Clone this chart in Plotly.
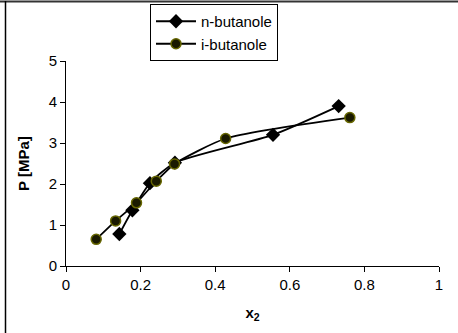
import plotly.graph_objects as go

n_x = [0.143, 0.178, 0.225, 0.292, 0.555, 0.731]
n_p = [0.78, 1.36, 2.02, 2.52, 3.20, 3.90]
i_x = [0.081, 0.133, 0.189, 0.242, 0.291, 0.428, 0.761]
i_p = [0.65, 1.10, 1.54, 2.07, 2.49, 3.11, 3.62]
x_ticks = [0, 0.2, 0.4, 0.6, 0.8, 1]
x_labels = ["0", "0.2", "0.4", "0.6", "0.8", "1"]
y_ticks = [0, 1, 2, 3, 4, 5]

FONT = "Liberation Sans, Arial, sans-serif"

fig = go.Figure()
fig.add_trace(go.Scatter(
    x=n_x, y=n_p, name="n-butanole", mode="lines+markers",
    line=dict(color="black", width=1.8, shape="spline", smoothing=0.6),
    marker=dict(symbol="diamond", size=11, color="black"),
))
fig.add_trace(go.Scatter(
    x=i_x, y=i_p, name="i-butanole", mode="lines+markers",
    line=dict(color="black", width=1.8, shape="spline", smoothing=0.6),
    marker=dict(symbol="circle", size=10, color="#1a1a00",
                line=dict(color="#666600", width=1.5)),
))

W, H = 458, 333
ml, mr, mt, mb = 66, 19, 61, 67
pw, ph = W - ml - mr, H - mt - mb

fig.update_layout(
    width=W, height=H,
    margin=dict(l=ml, r=mr, t=mt, b=mb, autoexpand=False),
    paper_bgcolor="white", plot_bgcolor="white",
    font=dict(family=FONT, size=15, color="black"),
    showlegend=True,
    legend=dict(
        x=(150 - ml) / pw, y=(H - mb - 4) / ph, xanchor="left", yanchor="top",
        bordercolor="black", borderwidth=1, bgcolor="white",
        font=dict(family=FONT, size=15),
        tracegroupgap=0, itemwidth=40,
    ),
    xaxis=dict(
        range=[0, 1], tickvals=x_ticks, ticktext=x_labels,
        showgrid=False, zeroline=False,
        showline=True, linecolor="black", linewidth=1,
        ticks="outside", ticklen=5, tickcolor="black",
        tickfont=dict(size=15),
        title=dict(text="<b>x<sub>2</sub></b>", font=dict(size=15)),
    ),
    yaxis=dict(
        range=[0, 5], tickvals=y_ticks,
        showgrid=False, zeroline=False,
        showline=True, linecolor="black", linewidth=1,
        ticks="outside", ticklen=5, tickcolor="black",
        tickfont=dict(size=15),
        title=dict(text="<b>P [MPa]</b>", font=dict(size=15)),
    ),
    shapes=[
        dict(type="line", xref="paper", yref="paper",
             x0=(0 - ml) / pw, x1=(W - ml) / pw,
             y0=(H - mb - 1.5) / ph, y1=(H - mb - 1.5) / ph,
             line=dict(color="#333333", width=2)),
        dict(type="line", xref="paper", yref="paper",
             x0=(5.5 - ml) / pw, x1=(5.5 - ml) / pw,
             y0=(H - mb - 1) / ph, y1=(H - mb - H) / ph,
             line=dict(color="black", width=1.5)),
    ],
)

fig.write_html("out.html", config={"displayModeBar": False},
               post_script="document.body.style.margin='0';")
